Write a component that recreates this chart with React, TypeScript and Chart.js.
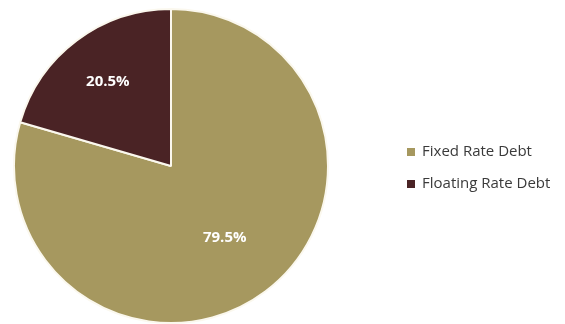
import React, { useEffect, useRef } from "react";
import { Chart, registerables } from "chart.js";

Chart.register(...registerables);

const categories = ["Fixed Rate Debt", "Floating Rate Debt"];
const values = [79.5, 20.5];
const colors = ["#a6985f", "#4a2325"];

const labelRadius = [0.57, 0.67];

const labelPlugin = {
  id: "labelsAndLegend",
  afterDatasetsDraw(chart: any) {
    const ctx = chart.ctx;
    const meta = chart.getDatasetMeta(0);
    ctx.save();
    ctx.fillStyle = "#ffffff";
    ctx.font = "bold 15px 'Open Sans', sans-serif";
    ctx.textAlign = "center";
    ctx.textBaseline = "middle";
    meta.data.forEach((arc: any, i: number) => {
      const { x, y, outerRadius, startAngle, endAngle } = arc.getProps(["x", "y", "outerRadius", "startAngle", "endAngle"], true);
      const mid = (startAngle + endAngle) / 2;
      const r = outerRadius * labelRadius[i];
      ctx.fillText(values[i].toFixed(1) + "%", x + Math.cos(mid) * r, y + Math.sin(mid) * r);
    });
    // legend
    const lx = chart.chartArea.right + 78;
    const ys = [152, 184];
    ctx.textAlign = "left";
    ctx.font = "15px 'Open Sans', sans-serif";
    categories.forEach((c, i) => {
      ctx.fillStyle = colors[i];
      ctx.fillRect(lx, ys[i] - 4, 8, 8);
      ctx.fillStyle = "#3a3a3a";
      ctx.fillText(c, lx + 15, ys[i]);
    });
    ctx.restore();
  },
};

export default function App() {
  const ref = useRef<HTMLCanvasElement>(null);
  useEffect(() => {
    if (!ref.current) return;
    const chart = new Chart(ref.current, {
      type: "pie",
      data: {
        labels: categories,
        datasets: [
          {
            data: values,
            backgroundColor: colors,
            borderColor: "#fbf8ee",
            borderWidth: 2,
          },
        ],
      },
      options: {
        animation: false,
        responsive: false,
        layout: { padding: { left: 13, top: 8, right: 236, bottom: 0 } },
        plugins: { legend: { display: false }, tooltip: { enabled: false } },
      },
      plugins: [labelPlugin],
    });
    return () => chart.destroy();
  }, []);
  return (
    <div style={{ position: "fixed", left: 0, top: 0, width: 565, height: 324, background: "#fff" }}>
      <canvas ref={ref} width={565} height={324} />
    </div>
  );
}
